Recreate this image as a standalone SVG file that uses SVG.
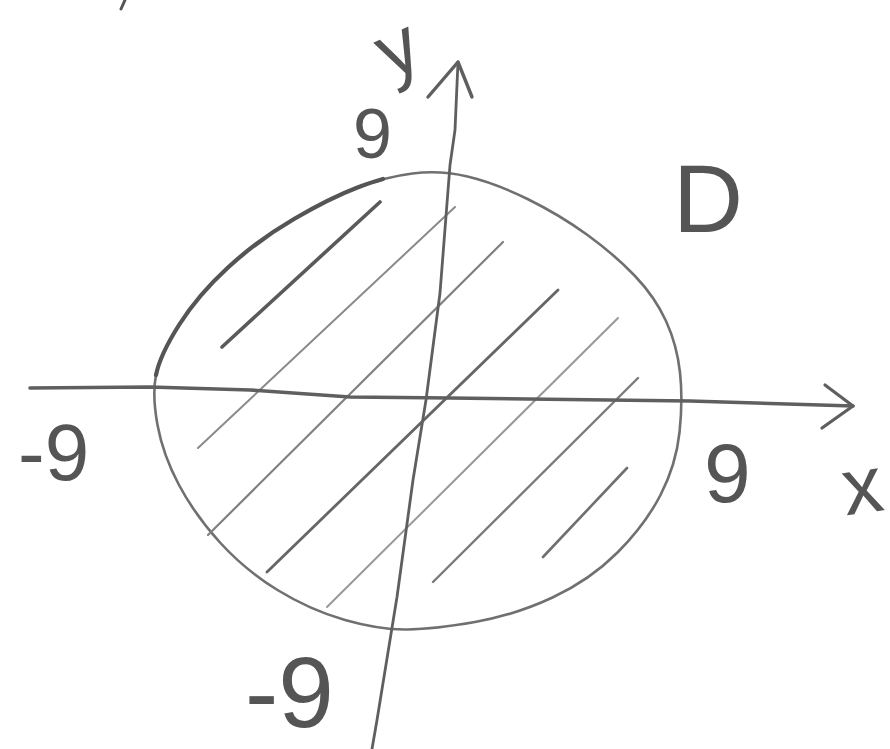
<svg xmlns="http://www.w3.org/2000/svg" width="890" height="749" viewBox="0 0 890 749">
<style>
.lbl{font-family:"Liberation Sans","DejaVu Sans",sans-serif;fill:#555;}
.hatch{fill:none;stroke-linecap:round;}
.ax{fill:none;stroke:#5f5f5f;stroke-linecap:round;stroke-linejoin:round;}
</style>
<rect width="890" height="749" fill="#ffffff"/>
<g id="region-D">
  <path d="M157.5,425 Q152,395 156,375 Q160,355 179,325 Q198,295 228,267.5 Q258,240 294,219 Q330,198 357.5,187.5 Q385,177 412.5,173.5 Q440,170 467.5,176.5 Q495,183 527.5,199 Q560,215 587.5,235 Q615,255 635,276 Q655,297 666,321 Q677,345 680,372.5 Q683,400 679.5,432.5 Q676,465 660.5,495 Q645,525 617.5,552.5 Q590,580 552.5,597.5 Q515,615 475,622 Q435,629 407.5,629.5 Q380,630 345,620 Q310,610 277.5,590 Q245,570 220,542.5 Q195,515 179,485 Q163,455 157.5,425 Z" fill="none" stroke="#707070" stroke-width="2.6"/>
  <path d="M156,375 Q160,355 179,325 Q198,295 228,267.5 Q258,240 294,219 Q330,198 357.5,187.5 Q372,182 383,179" fill="none" stroke="#555" stroke-width="4.2" stroke-linecap="round"/>
  <g id="hatching" class="hatch">
    <line x1="222" y1="347" x2="380" y2="202" stroke="#5a5a5a" stroke-width="3.6"/>
    <line x1="198" y1="448" x2="455" y2="207" stroke="#8a8a8a" stroke-width="2"/>
    <line x1="208" y1="535" x2="503" y2="242" stroke="#808080" stroke-width="2.2"/>
    <line x1="267" y1="572" x2="558" y2="290" stroke="#666" stroke-width="2.8"/>
    <line x1="327" y1="607" x2="618" y2="318" stroke="#999" stroke-width="2"/>
    <line x1="433" y1="582" x2="638" y2="378" stroke="#7a7a7a" stroke-width="2.4"/>
    <line x1="543" y1="557" x2="627" y2="468" stroke="#707070" stroke-width="2.6"/>
  </g>
</g>
<g id="axes">
  <g id="x-axis">
    <path class="ax" d="M30,388 L150,387 L250,390 L350,397 L450,398 L690,401 L853,406" stroke-width="3.6"/>
    <path class="ax" d="M825,385 L853,406 L822,428" stroke-width="3.2"/>
  </g>
  <g id="y-axis">
    <path class="ax" d="M458,62 L455,130 L450,165 L440,293 L426,400 L413,480 L397,597 L377,720 L372,749" stroke-width="2.8"/>
    <path class="ax" d="M428,97 L458,62 L472,97" stroke-width="3.4"/>
  </g>
</g>
<g id="labels">
  <text class="lbl" x="353" y="158" font-size="70">9</text>
  <text class="lbl" x="18" y="480" font-size="80">-9</text>
  <text class="lbl" x="704" y="502" font-size="84">9</text>
  <text class="lbl" x="843" y="513" font-size="80" transform="rotate(-8 863 492)">x</text>
  <text class="lbl" x="245" y="727" font-size="100">-9</text>
  <text class="lbl" x="673" y="232" font-size="97">D</text>
  <text class="lbl" x="382" y="72" font-size="78" transform="rotate(-25 405 57)">y</text>
</g>
<path d="M125,0 L121,9" stroke="#555" stroke-width="3" stroke-linecap="round" fill="none"/>
</svg>
